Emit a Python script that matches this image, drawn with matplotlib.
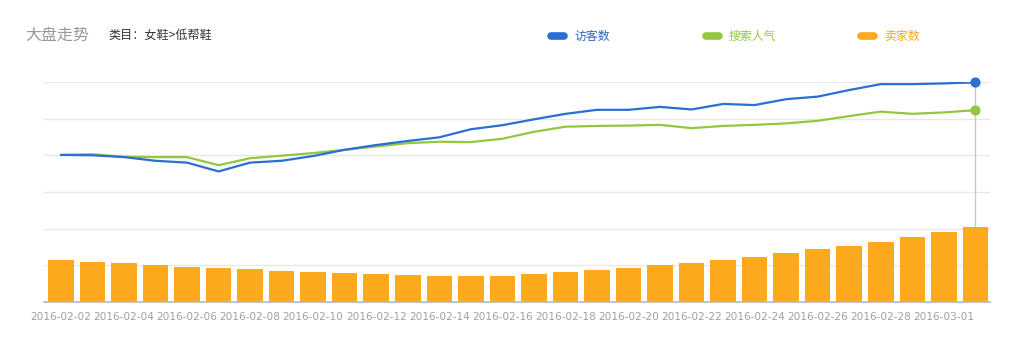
import matplotlib
matplotlib.use("Agg")
import matplotlib.pyplot as plt
from matplotlib.lines import Line2D
import numpy as np

plt.rcParams["font.family"] = ["Noto Sans CJK SC", "DejaVu Sans"]

BLUE = "#2a6fd4"
GREEN = "#93c83e"
ORANGE = "#fda91e"
GRID = "#e8e8e8"

# 2016-02-02 .. 2016-03-02, one point per day
dates = ["2016-02-%02d" % d for d in range(2, 30)] + ["2016-03-01", "2016-03-02"]

# index values (one grid step = 1)
visitors = [4.01, 4.00, 3.95, 3.85, 3.80, 3.56, 3.80, 3.85, 3.98, 4.15,
            4.28, 4.39, 4.49, 4.71, 4.82, 4.98, 5.13, 5.24, 5.24, 5.32,
            5.25, 5.40, 5.37, 5.53, 5.60, 5.78, 5.94, 5.94, 5.96, 5.99]
search_pop = [4.01, 4.03, 3.96, 3.95, 3.95, 3.73, 3.92, 3.99, 4.06, 4.15,
              4.24, 4.33, 4.37, 4.36, 4.45, 4.64, 4.78, 4.80, 4.81, 4.83,
              4.74, 4.80, 4.83, 4.87, 4.94, 5.07, 5.19, 5.13, 5.17, 5.23]
sellers = [1.14, 1.08, 1.06, 1.00, 0.96, 0.92, 0.89, 0.84, 0.81, 0.78,
           0.76, 0.73, 0.70, 0.70, 0.70, 0.76, 0.81, 0.86, 0.92, 1.00,
           1.06, 1.14, 1.22, 1.33, 1.44, 1.52, 1.63, 1.76, 1.90, 2.04]

legend_names = ["访客数", "搜索人气", "卖家数"]

fig = plt.figure(figsize=(10.24, 3.54), dpi=100)
fig.patch.set_facecolor("white")
ax = fig.add_axes([0.0425, 0.147, 0.9245, 0.6215])

x = np.arange(len(dates))
ax.bar(x, sellers, width=0.81, color=ORANGE, zorder=2)
ax.plot(x, visitors, color=BLUE, lw=1.6, zorder=4, solid_capstyle="round")
ax.plot(x, search_pop, color=GREEN, lw=1.6, zorder=3, solid_capstyle="round")

# hover crosshair and markers on the last day
last = x[-1]
ax.axvline(last, ymin=0, ymax=visitors[-1] / 6, color="#c8c8c8", lw=1, zorder=1)
ax.scatter([last], [visitors[-1]], s=40, color=BLUE, zorder=6, clip_on=False)
ax.scatter([last], [search_pop[-1]], s=40, color=GREEN, zorder=6, clip_on=False)

ax.set_xlim(-0.55, len(dates) - 0.53)
ax.set_ylim(0, 6)
ax.set_yticks(range(0, 7))
ax.yaxis.grid(True, color=GRID, lw=1)
ax.set_axisbelow(True)
ax.tick_params(axis="y", left=False, labelleft=False)
ax.set_xticks(x[::2])
ax.set_xticklabels(dates[::2], fontsize=7.6, color="#a0a0a0",
                   family="DejaVu Sans")
ax.tick_params(axis="x", length=0, pad=7)
for side in ("top", "left", "right"):
    ax.spines[side].set_visible(False)
ax.spines["bottom"].set_color("#b8b8b8")
ax.spines["bottom"].set_linewidth(1.2)

# header
fig.text(25 / 1024, 1 - 35 / 354, "大盘走势", fontsize=11.5, color="#999999",
         ha="left", va="center")
fig.text(108 / 1024, 1 - 35 / 354, "类目：女鞋>低帮鞋", fontsize=8.7,
         color="#333333", ha="left", va="center")

# legend
for name, col, px, tcol in [(legend_names[0], BLUE, 551, "#2f67b8"),
                            (legend_names[1], GREEN, 706, GREEN),
                            (legend_names[2], ORANGE, 861, ORANGE)]:
    yy = 1 - 36 / 354
    fig.add_artist(Line2D([px / 1024, (px + 13) / 1024], [yy, yy],
                          transform=fig.transFigure, color=col, lw=5.5,
                          solid_capstyle="round"))
    fig.text((px + 23) / 1024, yy, name, fontsize=8.6, color=tcol,
             ha="left", va="center")

fig.savefig("out.png", dpi=100, facecolor="white")
